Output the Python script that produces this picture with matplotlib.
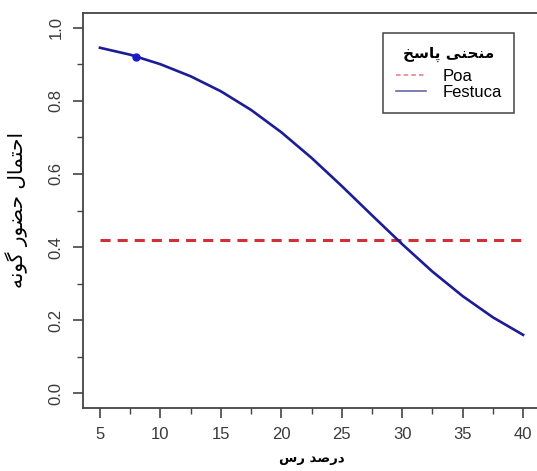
import matplotlib.pyplot as plt
from matplotlib.lines import Line2D
from matplotlib.ticker import MultipleLocator

# clay percentage vs probability of presence
clay = [5, 7.5, 10, 12.5, 15, 17.5, 20, 22.5, 25, 27.5, 30, 32.5, 35, 37.5, 40]
festuca = [0.945, 0.926, 0.900, 0.867, 0.826, 0.775, 0.714, 0.644, 0.567, 0.487,
           0.408, 0.333, 0.266, 0.208, 0.160]
poa_x = [5, 40]
poa = [0.42, 0.42]
point_x = [8]
point_y = [0.92]

# Persian labels, written in presentation forms and reversed (matplotlib has no shaping/bidi)
ylabel_fa = "\uFE8D\uFEA3\uFE98\uFEE4\uFE8E\uFEDD \uFEA3\uFEC0\uFEEE\uFEAD \uFB94\uFEEE\uFEE7\uFEEA"[::-1]
xlabel_fa = "\uFEA9\uFEAD\uFEBB\uFEAA \uFEAD\uFEB1"[::-1]
legend_title_fa = "\uFEE3\uFEE8\uFEA4\uFEE8\uFBFD \uFB58\uFE8E\uFEB3\uFEA6"[::-1]

fonts = ["Liberation Sans", "DejaVu Sans"]
plt.rcParams["font.family"] = fonts
grey = "#444444"

fig = plt.figure(figsize=(5.37, 4.71), dpi=100)
ax = fig.add_axes([83 / 537, 1 - 408 / 471, (540 - 83) / 537, (408 - 13) / 471])

ax.plot(poa_x, poa, color="#d03038", lw=2.2, linestyle=(0, (3.3, 2.3)))
ax.plot(clay, festuca, color="#1c1c96", lw=1.9)
ax.plot(point_x, point_y, "o", color="#1a1acc", ms=5)

ax.xaxis.set_minor_locator(MultipleLocator(2.5))
ax.yaxis.set_minor_locator(MultipleLocator(0.1))
ax.set_yticks([0, 0.2, 0.4, 0.6, 0.8, 1.0])
ax.set_yticklabels(["0.0", "0.2", "0.4", "0.6", "0.8", "1.0"], rotation=90, va="center")
ax.set_xticks(list(range(5, 41, 5)))
ax.set_xlim(3.6, 41.4)
ax.set_ylim(-0.04, 1.04)
ax.tick_params(which="major", length=7, width=1.2, color=grey, labelcolor="#3a3a3a",
               labelsize=12, pad=7)
ax.tick_params(which="minor", length=4, width=1.0, color=grey)
for sp in ax.spines.values():
    sp.set_color(grey)
    sp.set_linewidth(1.3)

ax.set_ylabel(ylabel_fa, fontsize=14.5, family=["DejaVu Sans"], labelpad=15)
ax.set_xlabel(xlabel_fa, fontsize=9.5, fontweight="bold", family=["DejaVu Sans"], labelpad=7)

handles = [Line2D([], [], color="#e07a80", lw=1.1, linestyle=(0, (3, 2))),
           Line2D([], [], color="#5a5aa0", lw=1.1)]
leg = ax.legend(handles, ["Poa", "Festuca"], title=legend_title_fa,
                loc="upper left", bbox_to_anchor=((383 - 83) / 457, 1 - (33 - 13) / 395),
                borderaxespad=0, fontsize=12, fancybox=False, edgecolor=grey, framealpha=1,
                handlelength=1.8, handletextpad=1.0, labelspacing=0.1, borderpad=0.75)
leg.get_title().set_fontweight("bold")
leg.get_title().set_family(["DejaVu Sans"])
leg.get_title().set_fontsize(11)
leg.get_frame().set_linewidth(1.1)
leg._legend_box.sep = 5

fig.savefig("out.png", dpi=100)
